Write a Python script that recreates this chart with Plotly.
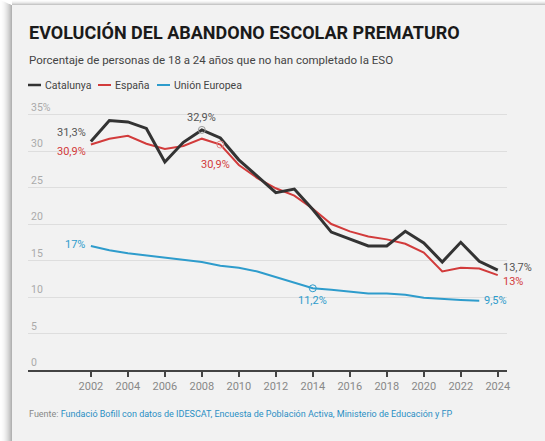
import plotly.graph_objects as go

years = list(range(2002, 2025))
catalunya = [31.3, 34.2, 34.0, 33.1, 28.5, 31.2, 32.9, 31.8, 28.8, 26.5, 24.3, 24.8,
             22.0, 18.9, 18.0, 17.0, 17.0, 19.0, 17.4, 14.8, 17.5, 14.9, 13.7]
espana = [30.9, 31.7, 32.1, 31.0, 30.3, 30.7, 31.7, 30.9, 28.1, 26.3, 24.9, 23.9,
          22.1, 20.0, 19.0, 18.3, 17.9, 17.3, 16.1, 13.5, 14.0, 13.9, 13.0]
ue_years = list(range(2002, 2024))
ue = [17.0, 16.4, 16.0, 15.7, 15.3, 15.0, 14.8, 14.3, 14.0, 13.5, 12.7, 11.9,
      11.2, 11.0, 10.7, 10.5, 10.5, 10.3, 9.9, 9.7, 9.6, 9.5]

y_ticks = [0, 5, 10, 15, 20, 25, 30, 35]
y_ticktext = ["0", "5", "10", "15", "20", "25", "30", "35%"]
x_ticks = list(range(2002, 2025, 2))

series_names = ["Catalunya", "España", "Unión Europea"]
colors = ["#333333", "#d23b3b", "#2e9ccc"]
label_colors = ["#555555", "#d23b3b", "#2e9ccc"]

W, H = 545, 441
L, R, T, B = 28, 38, 100, 71
PW, PH = W - L - R, H - T - B
FONT = "Roboto, Arial, sans-serif"


def px(x):
    return (x - L) / PW


def py(y):
    return (H - B - y) / PH


def fmt(v):
    return f"{v:g}".replace(".", ",") + "%"


fig = go.Figure()
fig.add_trace(go.Scatter(x=ue_years, y=ue, mode="lines", line=dict(color=colors[2], width=2),
                         name=series_names[2], hoverinfo="skip"))
fig.add_trace(go.Scatter(x=years, y=espana, mode="lines", line=dict(color=colors[1], width=2),
                         name=series_names[1], hoverinfo="skip"))
fig.add_trace(go.Scatter(x=years, y=catalunya, mode="lines", line=dict(color=colors[0], width=3),
                         name=series_names[0], hoverinfo="skip"))

# hollow markers on highlighted points
i_cat = years.index(2008)
i_esp = years.index(2009)
i_ue = ue_years.index(2014)
fig.add_trace(go.Scatter(x=[years[i_cat]], y=[catalunya[i_cat]], mode="markers",
                         marker=dict(size=7, color="rgba(0,0,0,0)", line=dict(color="#999", width=1)),
                         hoverinfo="skip"))
fig.add_trace(go.Scatter(x=[years[i_esp]], y=[espana[i_esp]], mode="markers",
                         marker=dict(size=7, color="rgba(0,0,0,0)", line=dict(color="#e08a8a", width=1)),
                         hoverinfo="skip"))
fig.add_trace(go.Scatter(x=[ue_years[i_ue]], y=[ue[i_ue]], mode="markers",
                         marker=dict(size=7, color="rgba(0,0,0,0)", line=dict(color=colors[2], width=1)),
                         hoverinfo="skip"))

ann = []


def lab(x, y, text, color, xanchor, yanchor, xshift=0, yshift=0):
    ann.append(dict(x=x, y=y, xref="x", yref="y", text=text, showarrow=False,
                    font=dict(family=FONT, size=11, color=color),
                    xanchor=xanchor, yanchor=yanchor, xshift=xshift, yshift=yshift))


lab(years[0], catalunya[0], fmt(catalunya[0]), label_colors[0], "right", "bottom", -3, 1)
lab(years[0], espana[0], fmt(espana[0]), label_colors[1], "right", "top", -3, 2)
lab(years[i_cat], catalunya[i_cat], fmt(catalunya[i_cat]), label_colors[0], "center", "bottom", 0, 4)
lab(years[i_esp], espana[i_esp], fmt(espana[i_esp]), label_colors[1], "center", "top", -5, -11)
lab(years[-1], catalunya[-1], fmt(catalunya[-1]), label_colors[0], "left", "middle", 3, 3)
lab(years[-1], espana[-1], fmt(espana[-1]), label_colors[1], "left", "middle", 3, -6)
lab(ue_years[0], ue[0], fmt(ue[0]), label_colors[2], "right", "middle", -4, 1)
lab(ue_years[i_ue], ue[i_ue], fmt(ue[i_ue]), label_colors[2], "center", "top", 0, -4)
lab(ue_years[-1], ue[-1], fmt(ue[-1]), label_colors[2], "left", "middle", 3, 0)

# title, subtitle, source
ann.append(dict(x=px(27), y=py(32), xref="paper", yref="paper", showarrow=False,
                text="<b>EVOLUCIÓN DEL ABANDONO ESCOLAR PREMATURO</b>",
                font=dict(family=FONT, size=18, color="#1a1a1a"), xanchor="left", yanchor="middle"))
ann.append(dict(x=px(27), y=py(60), xref="paper", yref="paper", showarrow=False,
                text="Porcentaje de personas de 18 a 24 años que no han completado la ESO",
                font=dict(family=FONT, size=11.5, color="#444444"), xanchor="left", yanchor="middle"))
ann.append(dict(x=px(27), y=py(414), xref="paper", yref="paper", showarrow=False,
                text="<span style='color:#888'>Fuente: </span>Fundació Bofill con datos de IDESCAT, Encuesta de Población Activa, Ministerio de Educación y FP",
                font=dict(family=FONT, size=9, color="#2a8fc4"), xanchor="left", yanchor="middle"))

shapes = []
# white outer area with shadow on left and top of the card
shapes.append(dict(type="rect", xref="paper", yref="paper", x0=px(-20), x1=px(12),
                   y0=py(H + 20), y1=py(-20), fillcolor="#ffffff", line=dict(width=0), layer="above"))
shapes.append(dict(type="rect", xref="paper", yref="paper", x0=px(-20), x1=px(W + 20),
                   y0=py(5), y1=py(-20), fillcolor="#ffffff", line=dict(width=0), layer="above"))
for k in range(12):
    a = 0.30 * ((12 - k) / 12) ** 2
    shapes.append(dict(type="rect", xref="paper", yref="paper", x0=px(11 - k), x1=px(12 - k),
                       y0=py(H + 20), y1=py(5 - k * 0.45), fillcolor=f"rgba(0,0,0,{a:.3f})",
                       line=dict(width=0), layer="above"))
for k in range(5):
    a = 0.22 * ((5 - k) / 5) ** 2
    shapes.append(dict(type="rect", xref="paper", yref="paper", x0=px(12), x1=px(W + 20),
                       y0=py(5 - k), y1=py(4 - k), fillcolor=f"rgba(0,0,0,{a:.3f})",
                       line=dict(width=0), layer="above"))

# legend
leg_x = [28, 98, 157]
for name, col, lx in zip(series_names, colors, leg_x):
    shapes.append(dict(type="line", xref="paper", yref="paper", x0=px(lx), x1=px(lx + 13),
                       y0=py(85), y1=py(85), line=dict(color=col, width=2.5 if col == colors[0] else 2)))
    ann.append(dict(x=px(lx + 15), y=py(85), xref="paper", yref="paper", showarrow=False,
                    text=name, font=dict(family=FONT, size=10.5, color="#444"),
                    xanchor="left", yanchor="middle"))

fig.update_layout(
    width=W, height=H,
    margin=dict(l=L, r=R, t=T, b=B),
    paper_bgcolor="#f2f2f2", plot_bgcolor="rgba(0,0,0,0)",
    showlegend=False,
    annotations=ann, shapes=shapes,
    font=dict(family=FONT),
    xaxis=dict(range=[1998.6, 2024.5], tickvals=x_ticks, showgrid=False, zeroline=False,
               showline=True, linecolor="#444", linewidth=1.5, ticks="outside", ticklen=5,
               tickcolor="#444", tickwidth=1.5, tickfont=dict(family=FONT, size=11, color="#888")),
    yaxis=dict(range=[0, 37], tickvals=y_ticks, ticktext=y_ticktext, showgrid=True,
               gridcolor="#dedede", gridwidth=1, zeroline=False, showline=False,
               ticklabelposition="inside top", ticks="",
               tickfont=dict(family=FONT, size=10.5, color="#aaaaaa")),
)

fig.write_html("out.html", config={"displayModeBar": False},
               post_script="document.body.style.margin='0';document.body.style.overflow='hidden';")
